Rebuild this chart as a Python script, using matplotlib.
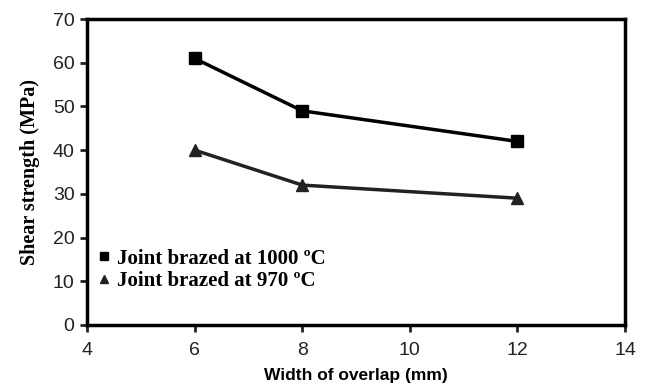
import matplotlib
matplotlib.use("Agg")
import matplotlib.pyplot as plt

# datos
overlap = [6, 8, 12]
shear_1000 = [61, 49, 42]
shear_970 = [40, 32, 29]
labels = ["Joint brazed at 1000 \u00baC", "Joint brazed at 970 \u00baC"]
xticks = [4, 6, 8, 10, 12, 14]
yticks = [0, 10, 20, 30, 40, 50, 60, 70]

fig = plt.figure(figsize=(6.45, 3.9), dpi=100)
ax = fig.add_axes([0.135, 0.167, 0.834, 0.784])

ax.plot(overlap, shear_1000, color="black", lw=2.5, marker="s", ms=8, label=labels[0])
ax.plot(overlap, shear_970, color="#222222", lw=2.5, marker="^", ms=8, label=labels[1])

ax.set_xlim(4, 14)
ax.set_ylim(0, 70)
ax.set_xticks(xticks)
ax.set_yticks(yticks)
ax.tick_params(labelsize=14, width=2, length=5, direction="out", colors="#222222")
ax.tick_params(axis="x", pad=7)
ax.tick_params(axis="y", pad=4)
for lab in ax.get_xticklabels() + ax.get_yticklabels():
    lab.set_fontfamily("Liberation Sans")
for s in ax.spines.values():
    s.set_linewidth(2.5)

ax.set_xlabel("Width of overlap (mm)", fontfamily="Liberation Sans",
              fontweight="bold", fontsize=12.5, labelpad=7)
ax.set_ylabel("Shear strength (MPa)", fontfamily="Liberation Serif",
              fontweight="bold", fontsize=14.5, labelpad=9)

leg = ax.legend(loc="lower left", bbox_to_anchor=(-0.015, 0.05), frameon=False,
                prop={"family": "Liberation Serif", "weight": "bold", "size": 15},
                handlelength=0.6, handletextpad=0.3, labelspacing=0.1,
                markerscale=0.75)
for h in leg.legend_handles:
    h.set_linestyle("none")

fig.savefig("out.png", dpi=100)
